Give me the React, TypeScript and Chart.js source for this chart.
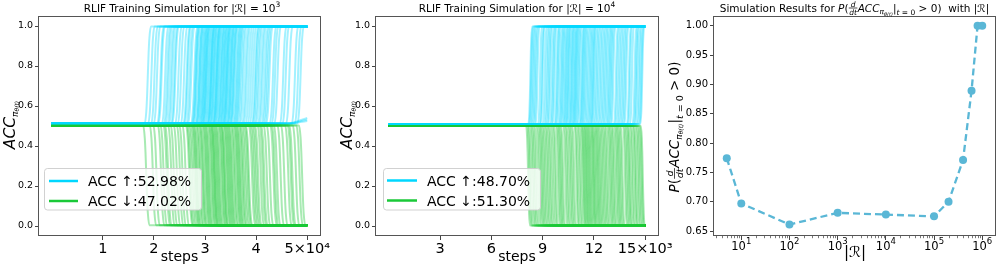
import React, { useEffect, useRef } from "react";
import { Chart, registerables } from "chart.js";
Chart.register(...registerables);

const FONT = '"DejaVu Sans", "Noto Sans", sans-serif';
const CYAN = "rgba(0,215,255,0.36)";
const GREEN = "rgba(26,201,56,0.38)";
const CYAN_SOLID = "#00d7ff";
const GREEN_SOLID = "#1ac938";
const LINE3 = "#5ab7d6";

// ---------- Panel 1: |R| = 10^3 ----------
const P1_END_STEP = 50000;
const P1_HALF_WIDTH = 600;
const P1_UP_START = 0.512;
const P1_UP_TOP = 0.997;
const P1_DOWN_START = 0.503;
const P1_DOWN_BOTTOM = 0.004;
const P1_UP_SWITCH = [18800, 19500, 20100, 20600, 21300, 21500, 22200, 22600, 22900, 23300, 23600, 24000, 24200, 24800, 25300, 25900, 26400, 26600, 27000, 27300, 27900, 28100, 28250, 28400, 28700, 28900, 29000, 29200, 29400, 29600, 29750, 29900, 30050, 30200, 30300, 30500, 30700, 30900, 31100, 31200, 31300, 31500, 31650, 31800, 32000, 32200, 32300, 32400, 32600, 32750, 33000, 33150, 33300, 33500, 33650, 33800, 34000, 34150, 34300, 34400, 34600, 34800, 35000, 35100, 35300, 35500, 35650, 35800, 36100, 36300, 36500, 36700, 36900, 37200, 37500, 37900, 38200, 38600, 39000, 39400, 39800, 40000, 40300, 40600, 41000, 41300, 41700, 42000, 42300, 42600, 43300, 43700, 44200, 45300, 45800, 46500, 47600, 48200, 48700];
const P1_DOWN_SWITCH = [18500, 19800, 20500, 21400, 21900, 22500, 22800, 23400, 23900, 24500, 25100, 25600, 26200, 26900, 27100, 27400, 27700, 28000, 28200, 28400, 28600, 28900, 29100, 29400, 29600, 29800, 30100, 30300, 30500, 30700, 30900, 31200, 31400, 31600, 31800, 31900, 32100, 32300, 32500, 32700, 32900, 33200, 33400, 33600, 33800, 33900, 34200, 34400, 34600, 34800, 35000, 35200, 35400, 35700, 35900, 36200, 36400, 36600, 36800, 37000, 37300, 37500, 37800, 38100, 38400, 38600, 39200, 39500, 39800, 40100, 40400, 40900, 41300, 41600, 42100, 42700, 43400, 43700, 44100, 44800, 45500, 46300, 46800, 47100, 47800, 48500, 49000];
const P1_LATE_START = 46000;
const P1_UP_LATE_END = [0.525, 0.532, 0.54];
const P1_X_TICKS = [10000, 20000, 30000, 40000, 50000];
const P1_X_LABELS = ["1", "2", "3", "4", "5×10⁴"];
const P1_LEGEND = ["ACC ↑:52.98%", "ACC ↓:47.02%"];

// ---------- Panel 2: |R| = 10^4 ----------
const P2_END_STEP = 15000;
const P2_HALF_WIDTH = 110;
const P2_UP_START = 0.51;
const P2_UP_TOP = 0.998;
const P2_DOWN_START = 0.5;
const P2_DOWN_BOTTOM = 0.002;
const P2_UP_SWITCH = [8280, 8330, 8400, 8470, 8550, 8620, 8700, 8850, 8950, 9000, 9120, 9220, 9300, 9380, 9450, 9560, 9630, 9700, 9820, 9880, 9950, 10050, 10120, 10180, 10250, 10330, 10380, 10450, 10500, 10560, 10640, 10700, 10750, 10820, 10880, 10930, 10980, 11040, 11110, 11180, 11280, 11330, 11390, 11450, 11520, 11600, 11680, 11760, 11830, 11900, 11960, 12010, 12100, 12180, 12260, 12350, 12430, 12520, 12600, 12680, 12760, 12850, 12920, 12990, 13060, 13140, 13290, 13370, 13470, 13560, 13650, 13740, 13820, 13900, 14050, 14120, 14230, 14380, 14460, 14520, 14620, 14700, 14780, 14830];
const P2_DOWN_SWITCH = [8150, 8230, 8300, 8400, 8480, 8560, 8650, 8760, 8850, 8930, 9000, 9080, 9160, 9250, 9330, 9420, 9500, 9600, 9700, 9780, 9900, 9980, 10050, 10120, 10200, 10330, 10420, 10500, 10600, 10680, 10760, 10850, 10980, 11050, 11150, 11230, 11330, 11400, 11450, 11520, 11570, 11630, 11690, 11750, 11810, 11880, 11950, 12000, 12060, 12130, 12200, 12260, 12330, 12400, 12480, 12560, 12640, 12720, 12800, 12900, 12980, 13050, 13130, 13200, 13300, 13380, 13450, 13520, 13600, 13680, 13820, 13900, 13980, 14060, 14120, 14220, 14300, 14400, 14460, 14560, 14640, 14720, 14800, 14860];
const P2_X_TICKS = [3000, 6000, 9000, 12000, 15000];
const P2_X_LABELS = ["3", "6", "9", "12", "15×10³"];
const P2_LEGEND = ["ACC ↑:48.70%", "ACC ↓:51.30%"];

const ACC_Y_TICKS = [0, 0.2, 0.4, 0.6, 0.8, 1.0];
const ACC_Y_LABELS = ["0.0", "0.2", "0.4", "0.6", "0.8", "1.0"];

// ---------- Panel 3 ----------
const R_SIZES = [5, 10, 100, 1000, 10000, 100000, 200000, 400000, 600000, 800000, 1000000];
const P_POSITIVE = [0.774, 0.697, 0.661, 0.681, 0.678, 0.675, 0.700, 0.771, 0.889, 1.0, 1.0];
const P3_Y_TICKS = [0.65, 0.70, 0.75, 0.80, 0.85, 0.90, 0.95, 1.00];
const P3_Y_LABELS = ["0.65", "0.70", "0.75", "0.80", "0.85", "0.90", "0.95", "1.00"];
const P3_X_TICKS = [10, 100, 1000, 10000, 100000, 1000000];
const P3_X_EXPONENTS = ["1", "2", "3", "4", "5", "6"];

// S-shape profile of one switch (offset in half-widths, fraction of the jump)
const SWITCH_SHAPE: [number, number][] = [[-1, 0], [-0.51, 0.12], [-0.26, 0.27], [0, 0.5], [0.26, 0.73], [0.51, 0.88], [1, 1]];

type Seg = { t?: string; s: number; it?: boolean; dy?: number; num?: string; den?: string; ax?: number };

function fontOf(s: number, it?: boolean) {
  return `${it ? "italic " : ""}${s}px ${FONT}`;
}
function segWidth(ctx: CanvasRenderingContext2D, g: Seg) {
  ctx.font = fontOf(g.s, g.it);
  if (g.num !== undefined) {
    return Math.max(ctx.measureText(g.num).width, ctx.measureText(g.den || "").width) + 1.5;
  }
  return ctx.measureText(g.t || "").width;
}
function drawRich(ctx: CanvasRenderingContext2D, segs: Seg[], x: number, y: number, rot = false) {
  ctx.save();
  ctx.translate(x, y);
  if (rot) ctx.rotate(-Math.PI / 2);
  const ws = segs.map((g) => segWidth(ctx, g));
  const total = ws.reduce((a, b) => a + b, 0);
  let cx = -total / 2;
  ctx.fillStyle = "#000";
  ctx.strokeStyle = "#000";
  ctx.textBaseline = "alphabetic";
  ctx.textAlign = "left";
  segs.forEach((g, i) => {
    ctx.font = fontOf(g.s, g.it);
    if (g.num !== undefined) {
      const ax = g.ax || 3;
      const w = ws[i];
      const nw = ctx.measureText(g.num).width;
      const dw = ctx.measureText(g.den || "").width;
      ctx.fillText(g.num, cx + (w - nw) / 2, -ax - 1.2);
      ctx.fillText(g.den || "", cx + (w - dw) / 2, -ax + 1.2 + g.s * 0.74);
      ctx.lineWidth = 0.7;
      ctx.beginPath();
      ctx.moveTo(cx + 0.3, -ax);
      ctx.lineTo(cx + w - 0.3, -ax);
      ctx.stroke();
    } else {
      ctx.fillText(g.t || "", cx, g.dy || 0);
    }
    cx += ws[i];
  });
  ctx.restore();
}

const accTitle = (exp: string): Seg[] => [
  { t: "RLIF Training Simulation for ", s: 10.5 },
  { t: "|ℛ| = 10", s: 10.5 },
  { t: exp, s: 7.5, dy: -4.5 },
];
const ACC_Y_TITLE: Seg[] = [
  { t: "ACC", s: 15.5, it: true },
  { t: "π", s: 9, it: true, dy: 2.5 },
  { t: "θ(t)", s: 6, it: true, dy: 4 },
];
const P3_Y_TITLE: Seg[] = [
  { t: "P", s: 13.5, it: true },
  { t: "(", s: 13.5 },
  { num: "d", den: "dt", s: 9.5, it: true, ax: 4.5 },
  { t: "ACC", s: 13.5, it: true },
  { t: "π", s: 9, it: true, dy: 2.5 },
  { t: "θ(t)", s: 6, it: true, dy: 4 },
  { t: "|", s: 13.5 },
  { t: "t", s: 9.5, it: true, dy: 3.5 },
  { t: " = 0", s: 9.5, dy: 3.5 },
  { t: " > 0)", s: 13.5 },
];
const P3_TITLE: Seg[] = [
  { t: "Simulation Results for ", s: 10.5 },
  { t: "P", s: 10.5, it: true },
  { t: "(", s: 10.5 },
  { num: "d", den: "dt", s: 7.5, it: true, ax: 3.5 },
  { t: "ACC", s: 10.5, it: true },
  { t: "π", s: 7.5, it: true, dy: 2.5 },
  { t: "θ(t)", s: 5, it: true, dy: 4 },
  { t: "|", s: 10.5 },
  { t: "t", s: 7.5, it: true, dy: 3 },
  { t: " = 0", s: 7.5, dy: 3 },
  { t: " > 0)", s: 10.5 },
  { t: "  with |ℛ|", s: 10.5 },
];

function switchCurve(t: number, w: number, lo: number, hi: number, end: number) {
  const pts = [{ x: 0, y: lo }];
  SWITCH_SHAPE.forEach(([dx, f]) => pts.push({ x: t + dx * w, y: lo + f * (hi - lo) }));
  pts.push({ x: end, y: hi });
  return pts;
}

function buildAccDatasets(p: any) {
  const ds: any[] = [];
  const n = Math.max(p.up.length, p.down.length);
  for (let i = 0; i < n; i++) {
    if (i < p.up.length)
      ds.push({ data: switchCurve(p.up[i], p.w, p.upStart, p.upTop, p.end), borderColor: CYAN });
    if (i < p.down.length)
      ds.push({ data: switchCurve(p.down[i], p.w, p.downStart, p.downBottom, p.end), borderColor: GREEN });
  }
  (p.late || []).forEach((v: number) => {
    ds.push({ data: [{ x: 0, y: p.upStart }, { x: p.lateStart, y: p.upStart }, { x: p.end, y: v }], borderColor: CYAN });
  });
  return ds;
}

const framePlugin = {
  id: "frame",
  afterDraw(chart: any) {
    const { ctx, chartArea: a } = chart;
    ctx.save();
    ctx.strokeStyle = "#555";
    ctx.lineWidth = 1;
    ctx.strokeRect(Math.round(a.left) - 0.5, Math.round(a.top) + 0.5, Math.round(a.right - a.left) + 1, Math.round(a.bottom - a.top) - 1);
    ctx.restore();
  },
};

function legendPlugin(cfg: any) {
  return {
    id: "leg",
    afterDraw(chart: any) {
      const ctx = chart.ctx;
      ctx.save();
      const { x0, y0, x1, y1 } = cfg;
      const r = 3;
      ctx.beginPath();
      ctx.moveTo(x0 + r, y0);
      ctx.lineTo(x1 - r, y0);
      ctx.quadraticCurveTo(x1, y0, x1, y0 + r);
      ctx.lineTo(x1, y1 - r);
      ctx.quadraticCurveTo(x1, y1, x1 - r, y1);
      ctx.lineTo(x0 + r, y1);
      ctx.quadraticCurveTo(x0, y1, x0, y1 - r);
      ctx.lineTo(x0, y0 + r);
      ctx.quadraticCurveTo(x0, y0, x0 + r, y0);
      ctx.closePath();
      ctx.fillStyle = "rgba(255,255,255,0.8)";
      ctx.fill();
      ctx.strokeStyle = "rgba(204,204,204,0.9)";
      ctx.lineWidth = 1;
      ctx.stroke();
      cfg.rows.forEach((row: any) => {
        ctx.strokeStyle = row.color;
        ctx.lineWidth = 2.5;
        ctx.beginPath();
        ctx.moveTo(cfg.lx0, row.y);
        ctx.lineTo(cfg.lx1, row.y);
        ctx.stroke();
        ctx.fillStyle = "#000";
        ctx.font = `14px ${FONT}`;
        ctx.textBaseline = "alphabetic";
        ctx.textAlign = "left";
        ctx.fillText(row.label, cfg.tx, row.y + 5.2);
      });
      ctx.restore();
    },
  };
}

function textPlugin(items: any[]) {
  return {
    id: "txt",
    afterDraw(chart: any) {
      items.forEach((it) => drawRich(chart.ctx, it.segs, it.x, it.y, it.rot));
    },
  };
}

function fixedTicks(values: number[]) {
  return (s: any) => {
    s.ticks = values.map((v) => ({ value: v }));
  };
}

function labelFor(values: number[], labels: string[]) {
  return (v: any) => {
    const i = values.findIndex((x) => Math.abs(x - Number(v)) < 1e-9 * Math.max(1, Math.abs(x)));
    return i >= 0 ? labels[i] : "";
  };
}

const gridCfg = { drawOnChartArea: false, drawTicks: true, tickLength: 4, tickColor: "#444", tickWidth: 1 };

function accConfig(p: any): any {
  return {
    type: "line",
    data: { datasets: buildAccDatasets(p) },
    options: {
      animation: false,
      responsive: false,
      events: [],
      layout: { padding: { left: p.padLeft, right: p.padRight, top: 16, bottom: 0 }, autoPadding: false },
      plugins: { legend: { display: false }, tooltip: { enabled: false }, title: { display: false } },
      elements: { point: { radius: 0 }, line: { borderWidth: 2, cubicInterpolationMode: "monotone", fill: false } },
      scales: {
        x: {
          type: "linear",
          min: p.xMin,
          max: p.xMax,
          afterBuildTicks: fixedTicks(p.xTicks),
          afterFit: (s: any) => { s.height = 34; },
          ticks: { callback: labelFor(p.xTicks, p.xLabels), font: { family: FONT, size: 14.5 }, color: "#000", padding: 1, maxRotation: 0, autoSkip: false },
          grid: gridCfg,
          border: { display: false },
        },
        y: {
          type: "linear",
          min: -0.05,
          max: 1.05,
          afterBuildTicks: fixedTicks(ACC_Y_TICKS),
          afterFit: (s: any) => { s.width = 39; },
          ticks: { callback: labelFor(ACC_Y_TICKS, ACC_Y_LABELS), font: { family: FONT, size: 9.5 }, color: "#000", padding: 2, autoSkip: false },
          grid: gridCfg,
          border: { display: false },
        },
      },
    },
    plugins: [
      framePlugin,
      legendPlugin(p.legend),
      textPlugin([
        { segs: accTitle(p.exp), x: p.titleX, y: 11.5 },
        { segs: ACC_Y_TITLE, x: p.yTitleX, y: 125, rot: true },
        { segs: [{ t: "steps", s: 14 }], x: p.cx, y: 261 },
      ]),
    ],
  };
}

const logAxisPlugin = {
  id: "logaxis",
  afterDraw(chart: any) {
    const sc = chart.scales.x;
    const ctx = chart.ctx;
    const b = chart.chartArea.bottom;
    ctx.save();
    ctx.strokeStyle = "#555";
    ctx.lineWidth = 0.8;
    for (let k = 0; k <= 6; k++) {
      for (let m = 2; m <= 9; m++) {
        const v = m * Math.pow(10, k);
        if (v < sc.min || v > sc.max) continue;
        const px = Math.round(sc.getPixelForValue(v)) + 0.5;
        ctx.beginPath();
        ctx.moveTo(px, b);
        ctx.lineTo(px, b + 2.2);
        ctx.stroke();
      }
    }
    ctx.restore();
    P3_X_TICKS.forEach((v, i) => {
      const px = sc.getPixelForValue(v);
      drawRich(ctx, [{ t: "10", s: 11.5 }, { t: P3_X_EXPONENTS[i], s: 8.5, dy: -6 }], px, b + 13.5);
    });
  },
};

function p3Config(): any {
  return {
    type: "line",
    data: {
      datasets: [
        {
          data: R_SIZES.map((r, i) => ({ x: r, y: P_POSITIVE[i] })),
          borderColor: LINE3,
          backgroundColor: LINE3,
          borderWidth: 2.3,
          borderDash: [7, 4],
          pointRadius: 4,
          pointBorderWidth: 0,
          pointBackgroundColor: LINE3,
          tension: 0,
          fill: false,
        },
      ],
    },
    options: {
      animation: false,
      responsive: false,
      events: [],
      layout: { padding: { left: 670, right: 1, top: 16, bottom: 0 }, autoPadding: false },
      plugins: { legend: { display: false }, tooltip: { enabled: false }, title: { display: false } },
      scales: {
        x: {
          type: "logarithmic",
          min: Math.pow(10, 0.434),
          max: Math.pow(10, 6.265),
          afterBuildTicks: fixedTicks(P3_X_TICKS),
          afterFit: (s: any) => { s.height = 34; },
          ticks: { callback: () => "", font: { family: FONT, size: 11.5 }, color: "#000", padding: 0, maxRotation: 0, autoSkip: false },
          grid: gridCfg,
          border: { display: false },
        },
        y: {
          type: "linear",
          min: 0.6415,
          max: 1.0165,
          afterBuildTicks: fixedTicks(P3_Y_TICKS),
          afterFit: (s: any) => { s.width = 44; },
          ticks: { callback: labelFor(P3_Y_TICKS, P3_Y_LABELS), font: { family: FONT, size: 10 }, color: "#000", padding: 2, autoSkip: false },
          grid: gridCfg,
          border: { display: false },
        },
      },
    },
    plugins: [
      framePlugin,
      logAxisPlugin,
      textPlugin([
        { segs: P3_TITLE, x: 854.5, y: 11.5 },
        { segs: P3_Y_TITLE, x: 679, y: 127, rot: true },
        { segs: [{ t: "|ℛ|", s: 15 }], x: 855, y: 257 },
      ]),
    ],
  };
}

const PANEL1 = {
  up: P1_UP_SWITCH, down: P1_DOWN_SWITCH, w: P1_HALF_WIDTH, end: P1_END_STEP,
  upStart: P1_UP_START, upTop: P1_UP_TOP, downStart: P1_DOWN_START, downBottom: P1_DOWN_BOTTOM,
  late: P1_UP_LATE_END, lateStart: P1_LATE_START,
  xMin: -2500, xMax: 52500, xTicks: P1_X_TICKS, xLabels: P1_X_LABELS, exp: "3",
  padLeft: 0, padRight: 676, cx: 179.5, titleX: 182, yTitleX: 15,
  legend: { x0: 44.5, y0: 168.5, x1: 201.5, y1: 210, lx0: 49, lx1: 78, tx: 88, rows: [
    { color: CYAN_SOLID, y: 181, label: P1_LEGEND[0] },
    { color: GREEN_SOLID, y: 201, label: P1_LEGEND[1] },
  ] },
};
const PANEL2 = {
  up: P2_UP_SWITCH, down: P2_DOWN_SWITCH, w: P2_HALF_WIDTH, end: P2_END_STEP,
  upStart: P2_UP_START, upTop: P2_UP_TOP, downStart: P2_DOWN_START, downBottom: P2_DOWN_BOTTOM,
  late: [], lateStart: 0,
  xMin: -750, xMax: 15750, xTicks: P2_X_TICKS, xLabels: P2_X_LABELS, exp: "4",
  padLeft: 337, padRight: 338, cx: 517, titleX: 517, yTitleX: 352,
  legend: { x0: 383.5, y0: 168.5, x1: 540.5, y1: 210, lx0: 387, lx1: 417, tx: 427, rows: [
    { color: CYAN_SOLID, y: 180.5, label: P2_LEGEND[0] },
    { color: GREEN_SOLID, y: 200.5, label: P2_LEGEND[1] },
  ] },
};

function ChartCanvas({ make }: { make: () => any }) {
  const ref = useRef<HTMLCanvasElement>(null);
  useEffect(() => {
    const c = new Chart(ref.current as HTMLCanvasElement, make());
    return () => c.destroy();
  }, []);
  return (
    <canvas
      ref={ref}
      width={996}
      height={270}
      style={{ position: "absolute", left: 0, top: 0, width: 996, height: 270 }}
    />
  );
}

export default function App() {
  return (
    <div style={{ position: "fixed", left: 0, top: 0, width: 996, height: 270, background: "#fff", overflow: "hidden" }}>
      <ChartCanvas make={() => accConfig(PANEL1)} />
      <ChartCanvas make={() => accConfig(PANEL2)} />
      <ChartCanvas make={() => p3Config()} />
    </div>
  );
}
